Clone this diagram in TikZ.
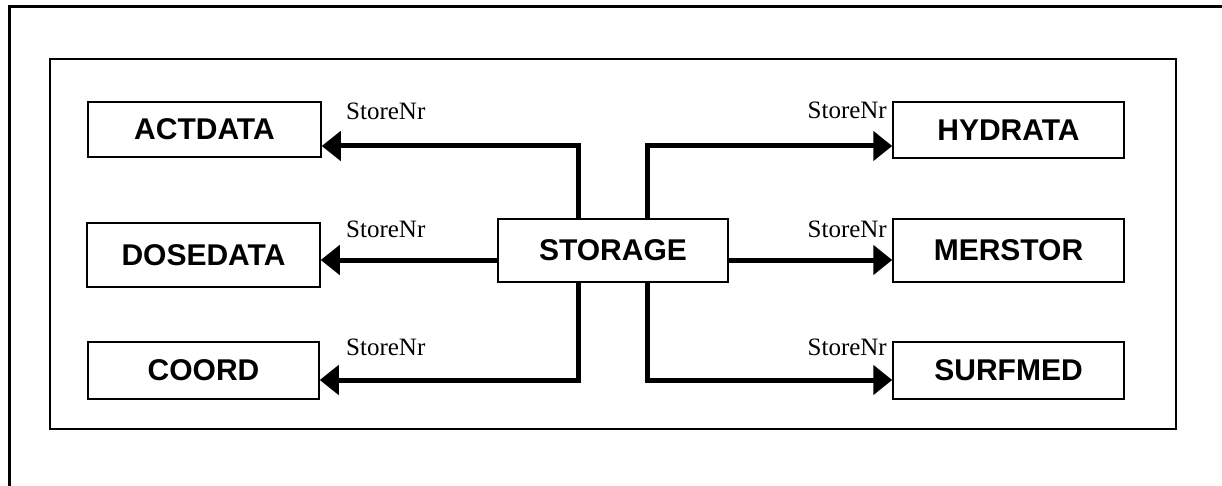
\documentclass[tikz,border=0pt]{standalone}
\usepackage{fontspec}
\setmainfont{Liberation Serif}
\newfontfamily\boxfont{Liberation Sans}
\usetikzlibrary{arrows.meta}
\begin{document}
\begin{tikzpicture}[x=1pt,y=-1pt,
  modbox/.style={draw,line width=1.5pt,inner sep=0pt,font=\boxfont\bfseries\fontsize{30}{30}\selectfont},
  arr/.style={line width=5pt,-{Triangle[length=19pt,width=29pt]}},
  lbl/.style={inner sep=0pt,font=\fontsize{25}{25}\selectfont}]
\useasboundingbox (0,0) rectangle (1222,486);
% outer frame (top and left only)
\draw[line width=3pt] (1222,7) -- (9,7) -- (9,486);
% inner frame
\draw[line width=1.6pt] (50,59) rectangle (1176,429);
% boxes
\node[modbox,minimum width=233pt,minimum height=55pt] (act) at (204.5,129.5) {ACTDATA};
\node[modbox,minimum width=233pt,minimum height=64pt] (dose) at (203.5,255) {DOSEDATA};
\node[modbox,minimum width=231pt,minimum height=57pt] (coord) at (203.5,370.5) {COORD};
\node[modbox,minimum width=231pt,minimum height=56pt] (hyd) at (1008.5,130) {HYDRATA};
\node[modbox,minimum width=231pt,minimum height=63pt] (mer) at (1008.5,250.5) {MERSTOR};
\node[modbox,minimum width=231pt,minimum height=57pt] (surf) at (1008.5,370.5) {SURFMED};
\node[modbox,minimum width=230pt,minimum height=63pt] (stor) at (613,250.5) {STORAGE};
% bend points
\coordinate (tl) at (578,146);
\coordinate (tr) at (647,146);
\coordinate (bl) at (578,380);
\coordinate (br) at (647,380);
\coordinate (ml) at (498,260);
\coordinate (mr) at (728,260);
% connectors
\draw[arr,line join=miter] (stor.north -| tl) -- (tl) -- (tl -| act.east);
\draw[arr,line join=miter] (stor.north -| tr) -- (tr) -- (tr -| hyd.west);
\draw[arr,line join=miter] (stor.south -| bl) -- (bl) -- (bl -| coord.east);
\draw[arr,line join=miter] (stor.south -| br) -- (br) -- (br -| surf.west);
\draw[arr] (ml) -- (ml -| dose.east);
\draw[arr] (mr) -- (mr -| mer.west);
% labels
\node[lbl,anchor=base west] (l1) at (346,120) {StoreNr};
\node[lbl,anchor=base west] (l2) at (346,237) {StoreNr};
\node[lbl,anchor=base west] (l3) at (346,355) {StoreNr};
\node[lbl,anchor=base east] (r1) at (887,119) {StoreNr};
\node[lbl,anchor=base east] (r2) at (887,237) {StoreNr};
\node[lbl,anchor=base east] (r3) at (887,355) {StoreNr};
\end{tikzpicture}
\end{document}
